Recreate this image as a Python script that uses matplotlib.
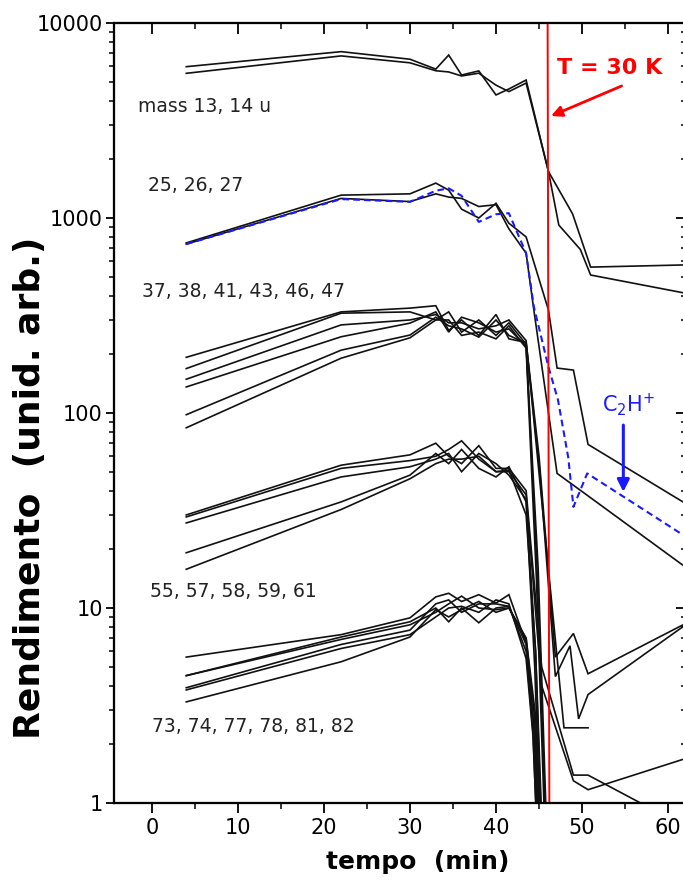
import matplotlib
matplotlib.use("Agg")
import matplotlib.pyplot as plt
from matplotlib.ticker import FixedLocator, LogLocator, NullFormatter, MultipleLocator

plt.rcParams['font.family'] = ['DejaVu Sans']

# ---------------- data ----------------
t_pre = [4, 22, 30, 33, 34.5, 36, 38, 40, 41.5, 43.5]

# mass 13, 14 u
m13_pre = [5970, 7130, 6520, 5800, 6850, 5410, 5680, 4275, 4590, 5100]
m13_tail_t = [46.1, 48.9, 51.0, 62.2]
m13_tail_v = [1730, 1050, 560, 575]
m14_pre = [5520, 6780, 6250, 5690, 5610, 5350, 5530, 4800, 4450, 4920]
m14_tail_t = [46.1, 47.3, 49.8, 51.0, 62.2]
m14_tail_v = [1730, 920, 690, 510, 410]

# 25, 26, 27
m26_pre = [745, 1310, 1330, 1510, 1390, 1110, 1000, 1190, 940, 800]
m26_tail_t = [46.1, 47.1, 49.0, 50.7, 62.2]
m26_tail_v = [337, 170, 166, 69, 34]
m27_pre = [735, 1260, 1214, 1330, 1280, 1260, 1145, 1170, 880, 660]
m27_tail_t = [44.4, 47.1, 50.2, 62.2]
m27_tail_v = [337, 49, 39, 16]
c2h_pre = [735, 1250, 1210, 1380, 1420, 1300, 955, 1045, 1058, 660]
c2h_tail_t = [44.4, 46.1, 47.2, 48.4, 49.0, 50.6, 62.2]
c2h_tail_v = [351, 172, 117, 59, 33, 49, 23]

# 37, 38, 41, 43, 46, 47
g3_pre = [
    [193, 330, 345, 355, 265, 300, 250, 320, 240, 230],
    [169, 325, 330, 300, 330, 260, 300, 250, 290, 225],
    [149, 283, 300, 320, 290, 290, 270, 280, 300, 235],
    [136, 246, 289, 330, 260, 310, 290, 260, 270, 220],
    [98, 210, 251, 310, 280, 270, 245, 300, 250, 228],
    [84, 191, 243, 300, 300, 250, 260, 240, 280, 215],
]
g3_tail_t = [
    [45.0, 46.9, 49.0, 50.7, 62.2],
    [45.1, 46.9, 48.6, 49.6, 50.7, 62.2],
    [45.2, 47.9, 50.7],
    [44.9, 46.0],
    [44.8, 45.9],
    [44.7, 45.8],
]
g3_tail_v = [
    [60, 5.6, 7.4, 4.6, 8.4],
    [50, 4.45, 6.4, 2.7, 3.6, 8.3],
    [40, 2.43, 2.43],
    [16, 0.5],
    [15, 0.5],
    [14, 0.5],
]

# 55, 57, 58, 59, 61
g4_pre = [
    [30, 54, 61, 70, 60, 55, 68, 52, 52, 40],
    [29.3, 52, 57, 60, 65, 72, 58, 50, 50, 38],
    [27.3, 47, 53, 58, 62, 50, 62, 55, 48, 36],
    [19.2, 35, 48, 62, 55, 65, 52, 47, 53, 35],
    [15.8, 32, 46, 55, 58, 58, 60, 50, 51, 30],
]
g4_tail_t = [
    [45.3, 49.0, 50.7, 56.8, 58.5],
    [45.3, 49.0, 50.7, 62.2],
    [44.6, 45.4],
    [44.5, 45.3],
    [44.6, 45.5],
]
g4_tail_v = [
    [5, 1.39, 1.39, 1.0, 0.9],
    [4, 1.3, 1.17, 1.7],
    [6, 0.5],
    [5, 0.5],
    [6, 0.5],
]

# 73, 74, 77, 78, 81, 82
g5_pre = [
    [5.6, 7.3, 8.9, 11.4, 11.9, 10.8, 11.7, 10.6, 11.7, 6.6],
    [4.5, 7.1, 8.5, 10.0, 8.5, 10.0, 8.4, 10.0, 10.2, 6.0],
    [4.5, 6.9, 8.2, 9.5, 10.5, 11.5, 10.0, 9.8, 10.0, 7.0],
    [3.9, 6.5, 7.7, 10.5, 11.0, 9.5, 10.5, 10.5, 10.2, 6.5],
    [3.8, 6.2, 7.3, 9.0, 10.0, 10.2, 9.5, 11.0, 10.5, 5.5],
    [3.3, 5.3, 7.1, 9.8, 9.0, 9.8, 10.8, 9.5, 10.0, 7.0],
]
g5_tail_t = [[44.4, 45.0], [44.3, 44.9], [44.5, 45.1], [44.4, 45.0], [44.3, 44.9], [44.6, 45.2]]
g5_tail_v = [[2.5, 0.5], [2.3, 0.5], [2.7, 0.5], [2.5, 0.5], [2.2, 0.5], [2.8, 0.5]]

group_labels = ["mass 13, 14 u", "25, 26, 27", "37, 38, 41, 43, 46, 47",
                "55, 57, 58, 59, 61", "73, 74, 77, 78, 81, 82"]
label_pos = [(-1.56, 3750), (-0.43, 1476), (-1.16, 419), (-0.2, 12.1), (0.0, 2.46)]

T_line_x = [46.0, 46.2]
T_line_y = [10000, 1]

x_ticks = [0, 10, 20, 30, 40, 50, 60]
y_ticks = [1, 10, 100, 1000, 10000]
y_ticklabels = ["1", "10", "100", "1000", "10000"]

# ---------------- figure ----------------
W, H = 683, 888
fig = plt.figure(figsize=(W / 100, H / 100), dpi=100)
L, R, B, T = 114, 687, 803, 23
ax = fig.add_axes([L / W, 1 - B / H, (R - L) / W, (B - T) / H])
ax.set_yscale('log')
XL = (-4.4, 62.2)
YL = (1, 10000)
ax.set_xlim(*XL)
ax.set_ylim(*YL)

black = dict(color='#111111', lw=1.2, solid_joinstyle='miter')

def draw(pre, tt, tv, **kw):
    ax.plot(list(t_pre) + list(tt), list(pre) + list(tv), **kw)

draw(m13_pre, m13_tail_t, m13_tail_v, **black)
draw(m14_pre, m14_tail_t, m14_tail_v, **black)
draw(m26_pre, m26_tail_t, m26_tail_v, **black)
draw(m27_pre, m27_tail_t, m27_tail_v, **black)
for pre, tt, tv in zip(g3_pre, g3_tail_t, g3_tail_v):
    draw(pre, tt, tv, **black)
for pre, tt, tv in zip(g4_pre, g4_tail_t, g4_tail_v):
    draw(pre, tt, tv, **black)
for pre, tt, tv in zip(g5_pre, g5_tail_t, g5_tail_v):
    draw(pre, tt, tv, **black)
draw(c2h_pre, c2h_tail_t, c2h_tail_v, color='#1a1aff', lw=1.5, linestyle=(0, (3.2, 2.0)))

ax.plot(T_line_x, T_line_y, color='#ff0000', lw=1.4, zorder=5)

# labels
for txt, (x, y) in zip(group_labels, label_pos):
    ax.text(x, y, txt, fontsize=13.5, ha='left', va='center', color='#222222')

ax.text(47.1, 5880, "T = 30 K", color='#ff0000', fontsize=16, fontweight='bold',
        ha='left', va='center')
ax.annotate("", xy=(46.4, 3334), xytext=(54.6, 4755),
            arrowprops=dict(arrowstyle='-|>', color='#ff0000', lw=2.0,
                            mutation_scale=16, shrinkA=0, shrinkB=0))
ax.text(55.4, 110, r"C$_2$H$^{+}$", color='#1a1aff', fontsize=15,
        ha='center', va='center')
ax.annotate("", xy=(54.8, 39.4), xytext=(54.8, 86.7),
            arrowprops=dict(arrowstyle='-|>', color='#1a1aff', lw=2.2,
                            mutation_scale=18, shrinkA=0, shrinkB=0))

# axes styling
for s in ax.spines.values():
    s.set_linewidth(1.5)
ax.xaxis.set_major_locator(FixedLocator(x_ticks))
ax.xaxis.set_minor_locator(MultipleLocator(5))
ax.yaxis.set_major_locator(FixedLocator(y_ticks))
ax.yaxis.set_minor_locator(LogLocator(base=10, subs=range(2, 10)))
ax.yaxis.set_minor_formatter(NullFormatter())
ax.set_yticklabels(y_ticklabels)
ax.tick_params(axis='x', which='major', direction='out', length=7, width=1.3,
               labelsize=15, pad=4)
ax.tick_params(axis='x', which='minor', direction='out', length=4, width=1.1)
ax.tick_params(axis='y', which='major', direction='out', length=6, width=1.3,
               labelsize=15, pad=2)
ax.tick_params(axis='y', which='minor', direction='out', length=3.5, width=1.1)

# mirrored inward ticks on top and right
axt = ax.twiny()
axt.set_xlim(*XL)
axt.xaxis.set_major_locator(FixedLocator(x_ticks))
axt.xaxis.set_minor_locator(MultipleLocator(5))
axt.tick_params(axis='x', which='major', direction='in', length=8, width=1.3, labeltop=False)
axt.tick_params(axis='x', which='minor', direction='in', length=4.5, width=1.1)
axr = ax.twinx()
axr.set_yscale('log')
axr.set_ylim(*YL)
axr.yaxis.set_major_locator(FixedLocator(y_ticks))
axr.yaxis.set_minor_locator(LogLocator(base=10, subs=range(2, 10)))
axr.yaxis.set_minor_formatter(NullFormatter())
axr.tick_params(axis='y', which='major', direction='in', length=8, width=1.3, labelright=False)
axr.tick_params(axis='y', which='minor', direction='in', length=4.5, width=1.1)
for a in (axt, axr):
    for s in a.spines.values():
        s.set_linewidth(1.5)

fig.text(418 / W, 1 - 862 / H, "tempo  (min)", fontsize=18, fontweight='bold',
         ha='center', va='center')
fig.text(30 / W, 1 - 488 / H, "Rendimento  (unid. arb.)", fontsize=26, fontweight='bold',
         ha='center', va='center', rotation=90)

fig.savefig("out.png", dpi=100)
